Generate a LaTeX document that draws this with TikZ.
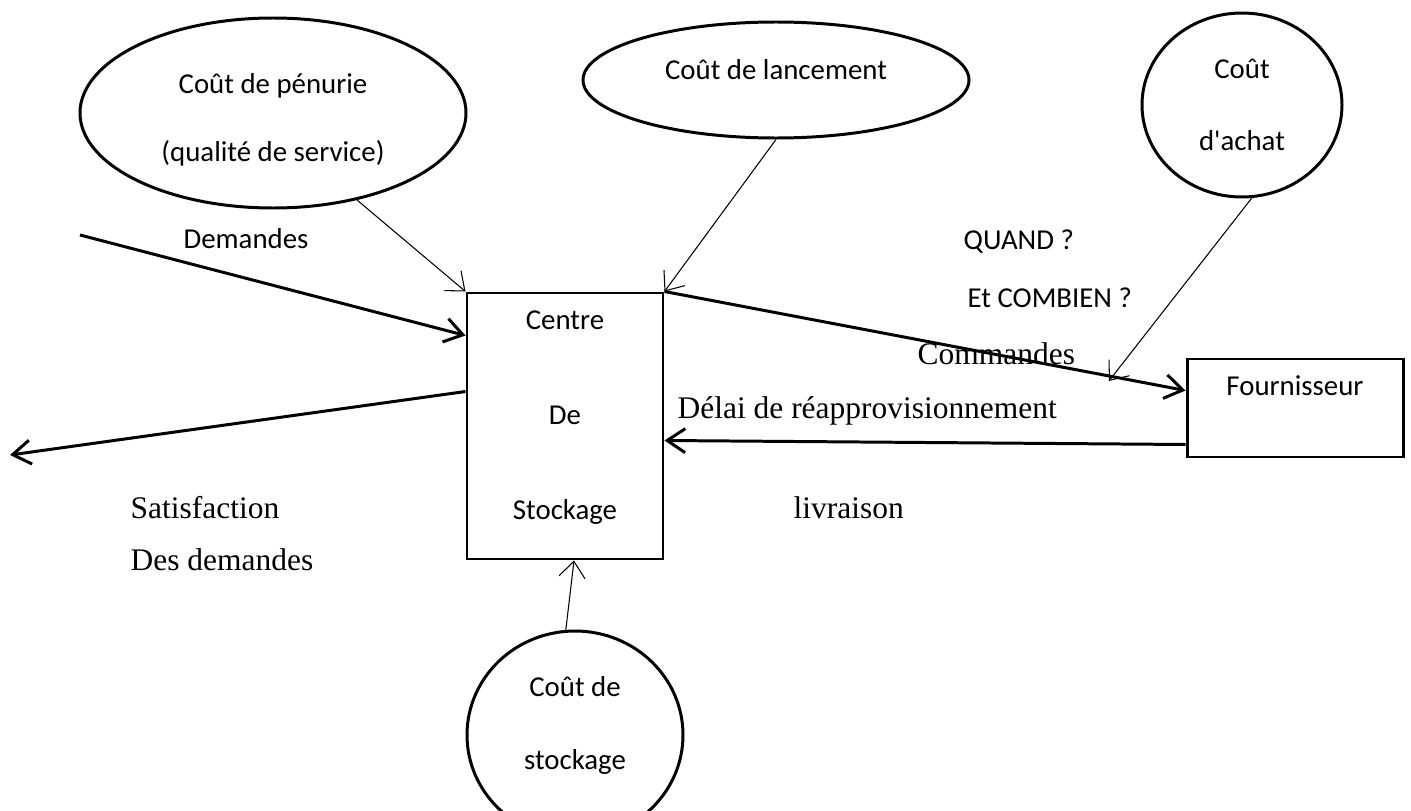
\documentclass[tikz,border=0pt]{standalone}
\usepackage{fontspec}
\setmainfont{Carlito}
\newfontfamily\timesfont{Liberation Serif}
\usetikzlibrary{shapes.geometric,arrows.meta,calc,positioning}

\tikzset{
	cost/.style={ellipse, draw, line width=0.85pt, inner sep=0pt, align=center, font=\fontsize{8.2}{10}\selectfont},
	block/.style={rectangle, draw, line width=0.85pt, inner sep=0pt, align=center, font=\fontsize{8.2}{10}\selectfont},
	flow/.style={line width=0.85pt, -{Straight Barb[length=1.8mm, width=2.4mm]}},
	feed/.style={line width=0.3pt, -{Straight Barb[length=1.6mm, width=2.6mm]}},
	sanslbl/.style={font=\fontsize{8.2}{10}\selectfont, inner sep=0pt},
	seriflbl/.style={font=\timesfont\fontsize{8.95}{10.5}\selectfont, inner sep=0pt},
}

\begin{document}
\begin{tikzpicture}
	\useasboundingbox (0,0) rectangle (14.11,-8.11);
	\node[block, minimum width=1.96cm, minimum height=2.66cm] (centre) at (5.65,-4.26) {Centre\\[0.60cm]De\\[0.60cm]Stockage\rule[-6.3pt]{0pt}{6.3pt}};
	\node[block, minimum width=2.16cm, minimum height=0.98cm, text depth=0.45cm] (fournisseur) at (12.95,-4.08) {Fournisseur};
	\node[cost, minimum width=3.86cm, minimum height=1.90cm] (penurie) at (2.73,-1.13) {\rule{0pt}{9.4pt}Coût de pénurie\\[0.33cm](qualité de service)};
	\node[cost, minimum width=3.86cm, minimum height=1.16cm, text depth=5.7pt] (lancement) at (7.76,-0.80) {Coût de lancement};
	\node[cost, minimum width=2.00cm, minimum height=1.84cm] (achat) at (12.42,-1.05) {Coût\\[0.37cm]d\textquotesingle achat};
	\node[cost, minimum width=2.16cm, minimum height=2.08cm] (stockage) at (5.75,-7.35) {Coût de\\[0.37cm]stockage\rule[-6.8pt]{0pt}{6.8pt}};

	\node[sanslbl] (demandes) at (2.46,-2.39) {Demandes};
	\node[sanslbl, anchor=west] (quand) at (9.63,-2.42) {QUAND ?};
	\node[sanslbl, anchor=west] (combien) at (9.67,-2.98) {Et COMBIEN ?};
	\node[seriflbl, anchor=west] (commandes) at (9.17,-3.54) {Commandes};
	\node[seriflbl, anchor=west] (delai) at (6.77,-4.11) {Délai de réapprovisionnement};
	\node[seriflbl, anchor=west] (livraison) at (7.93,-5.08) {livraison};
	\node[seriflbl, anchor=west] (satisfaction) at (1.30,-5.08) {Satisfaction};
	\node[seriflbl, anchor=west] (desdemandes) at (1.30,-5.60) {Des demandes};

	\coordinate (demsrc) at (0.80,-2.35);
	\coordinate (satdst) at (0.10,-4.55);
	\draw[flow] (demsrc) -- ($(centre.north west)+(0,-0.44)$);
	\draw[flow] ($(centre.north west)+(0,-1.00)$) -- (satdst);
	\draw[flow] (centre.north east) -- coordinate[pos=0.853] (cmdpt) ($(fournisseur.north west)+(0,-0.33)$);
	\draw[flow] ($(fournisseur.south west)+(0,0.14)$) -- ($(centre.south east)+(0,1.20)$);
	\draw[feed] (penurie.-46) -- (centre.north west);
	\draw[feed] (lancement.south) -- (centre.north east);
	\draw[feed] (achat.-84) -- ($(cmdpt)+(0,-0.05)$);
	\draw[feed] (stockage.95) -- ($(centre.south)+(0.09,0)$);
\end{tikzpicture}
\end{document}
